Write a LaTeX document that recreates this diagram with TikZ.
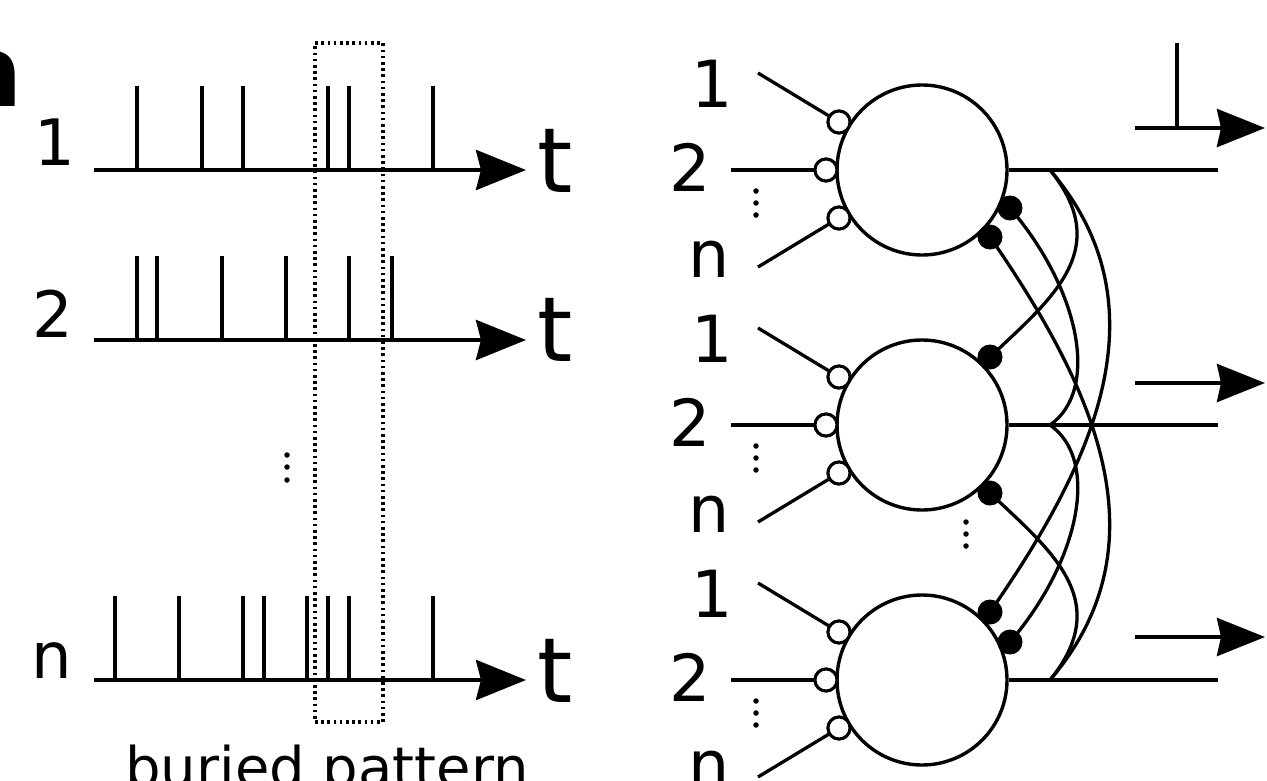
\documentclass[tikz,border=0pt]{standalone}
\usepackage{fontspec}
\setmainfont{DejaVu Sans}
\usetikzlibrary{arrows.meta}
\begin{document}
\begin{tikzpicture}[x=1pt,y=-1pt,
  axis/.style={line width=4.2pt, -{Stealth[length=50pt,width=40pt,inset=5pt]}},
  spike/.style={line width=3.3pt},
  lbl/.style={inner sep=0pt, anchor=base, font=\fontsize{64}{66}\selectfont},
  tlbl/.style={inner sep=0pt, anchor=base west, font=\fontsize{90}{95}\selectfont},
  rlbl/.style={inner sep=0pt, anchor=base, font=\fontsize{65}{70}\selectfont},
  soma/.style={circle, draw, line width=3.4pt, minimum size=170pt, inner sep=0pt},
  exc/.style={circle, draw, fill=white, line width=3pt, minimum size=22pt, inner sep=0pt},
  inh/.style={circle, fill=black, minimum size=25pt, inner sep=0pt},
  wire/.style={line width=3.3pt},
  vdot/.style={circle, fill=black, minimum size=5.5pt, inner sep=0pt},
  outarrow/.style={line width=3.8pt, -{Stealth[length=48pt,width=38pt,inset=4pt]}},
]
\useasboundingbox[fill=white] (0,0) rectangle (1267,780);

% panel letter
\node[inner sep=0pt, anchor=base west, font=\bfseries\fontsize{100}{100}\selectfont] (panel) at (-45,106) {a};

% ---------- spike trains ----------
\node[lbl] (l1) at (55,165) {1};
\node[lbl] (l2) at (53,337) {2};
\node[lbl] (ln) at (52,678) {n};

\coordinate (a1s) at (94,170);  \coordinate (a1e) at (526,170);
\coordinate (a2s) at (94,340);  \coordinate (a2e) at (526,340);
\coordinate (ans) at (94,680);  \coordinate (ane) at (526,680);
\draw[axis] (a1s) -- (a1e);
\draw[axis] (a2s) -- (a2e);
\draw[axis] (ans) -- (ane);

\node[tlbl] (t1) at (537,192) {t};
\node[tlbl] (t2) at (537,361) {t};
\node[tlbl] (tn) at (537,702) {t};

\foreach \x in {137,202,243,328,349,433} \draw[spike] (\x,170) -- (\x,86);
\foreach \x in {137,157,222,286,349,392} \draw[spike] (\x,340) -- (\x,256);
\foreach \x in {115,179,243,264,307,328,349,433} \draw[spike] (\x,680) -- (\x,596);

\node[vdot] (ld1) at (287,455) {};
\node[vdot] (ld2) at (287,467) {};
\node[vdot] (ld3) at (287,480) {};

% window around the repeated pattern
\node[draw, line width=3.2pt, dash pattern=on 2.6pt off 3.6pt,
      minimum width=68pt, minimum height=679pt, inner sep=0pt] (win) at (349,382.5) {};
\node[inner sep=0pt, anchor=base, font=\fontsize{56}{60}\selectfont] (cap) at (327,787) {buried pattern};

% ---------- neurons ----------
\foreach \i/\y in {1/170,2/425,3/680}{
  \node[soma] (n\i) at (922,\y) {};
  \node[exc] (e\i a) at (839,{\y-48}) {};
  \node[exc] (e\i b) at (826,\y) {};
  \node[exc] (e\i c) at (839,{\y+48}) {};
  \coordinate (i\i a) at (758,{\y-97});
  \coordinate (i\i b) at (731,\y);
  \coordinate (i\i c) at (758,{\y+97});
  \draw[wire] (i\i a) -- (e\i a);
  \draw[wire] (i\i b) -- (e\i b);
  \draw[wire] (i\i c) -- (e\i c);
  \node[exc] at (e\i a) {};
  \node[exc] at (e\i b) {};
  \node[exc] at (e\i c) {};
  \node[rlbl] (r\i a) at (712,{\y-63}) {1};
  \node[rlbl] (r\i b) at (690,{\y+21}) {2};
  \node[rlbl] (r\i c) at (709,{\y+107}) {n};
  \node[vdot] (v\i a) at (756,{\y+21}) {};
  \node[vdot] (v\i b) at (756,{\y+33}) {};
  \node[vdot] (v\i c) at (756,{\y+45}) {};
  \coordinate (o\i) at (1218,\y);
  \coordinate (b\i) at (1050,\y);
  \draw[line width=3.8pt] (n\i.east) -- (o\i);
}

\node[vdot] (md1) at (966,522) {};
\node[vdot] (md2) at (966,534) {};
\node[vdot] (md3) at (966,546) {};

% inhibitory synapse positions
\coordinate (d1a) at (1010,208);
\coordinate (d1b) at (990,237);
\coordinate (d2a) at (990,357);
\coordinate (d2b) at (990,493);
\coordinate (d3a) at (990,612);
\coordinate (d3b) at (1010,642);

% lateral connections
\draw[wire] (b1) .. controls (1115,250) and (1050,300) .. (d2a);
\draw[wire] (b3) .. controls (1115,600) and (1050,550) .. (d2b);
\draw[wire] (b2) .. controls (1100,390) and (1080,290) .. (d1a);
\draw[wire] (b2) .. controls (1100,460) and (1080,560) .. (d3b);
\draw[wire] (b1) .. controls (1167,307) and (1093,464) .. (d3a);
\draw[wire] (b3) .. controls (1167,543) and (1093,386) .. (d1b);

\foreach \d in {d1a,d1b,d2a,d2b,d3a,d3b} \node[inh] at (\d) {};

% output spike trains
\coordinate (p1s) at (1135,128); \coordinate (p1e) at (1265,128);
\coordinate (p2s) at (1135,383); \coordinate (p2e) at (1265,383);
\coordinate (p3s) at (1135,637); \coordinate (p3e) at (1265,637);
\draw[outarrow] (p1s) -- (p1e);
\draw[outarrow] (p2s) -- (p2e);
\draw[outarrow] (p3s) -- (p3e);
\coordinate (sp) at (1177,43);
\draw[spike] (sp) -- (1177,128);
\end{tikzpicture}
\end{document}
